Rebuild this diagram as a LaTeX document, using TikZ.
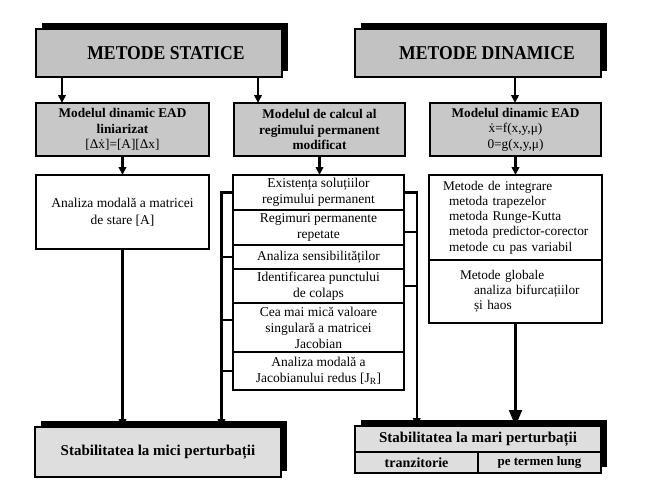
\documentclass[tikz,border=0pt]{standalone}
\usepackage{fontspec}
\setmainfont{Liberation Serif}
\newfontfamily\hdrfont[FakeStretch=0.9]{Liberation Serif}
\usetikzlibrary{arrows.meta,shadows}
\definecolor{hdrgray}{HTML}{C2C2C2}
\definecolor{boxgray}{HTML}{C8C8C8}
\definecolor{botgray}{HTML}{DEDEDE}
\newcommand\dotx{\accent"02D9 x}
\begin{document}
\begin{tikzpicture}[x=1pt,y=-1pt,
  every node/.style={inner sep=0pt, outer sep=0pt},
  frame/.style={draw, line width=1.8pt},
  shad/.style={drop shadow={shadow xshift=6pt, shadow yshift=6pt, fill=black, opacity=1}},
  hdr/.style={frame, fill=hdrgray, anchor=north west, shad, font=\hdrfont\bfseries\fontsize{19.6}{22}\selectfont},
  mbox/.style={frame, fill=boxgray, anchor=north west, align=center, minimum height=53, font=\bfseries\fontsize{13.3}{15.5}\selectfont},
  wbox/.style={frame, line width=1.5pt, fill=white, anchor=north west, align=center, font=\fontsize{13.5}{16.5}\selectfont},
  sbox/.style={wbox, minimum width=171, font=\fontsize{13.5}{16}\selectfont},
  rbox/.style={wbox, minimum width=173, text width=173, align=left, font=\fontsize{13.3}{15.2}\selectfont},
  bot/.style={frame, fill=botgray, anchor=north west, font=\bfseries\fontsize{15}{18}\selectfont},
  conn/.style={line width=2.2pt},
  arr/.style={conn, -{Triangle[width=7.5pt,length=8pt]}},
  bigarr/.style={conn, -{Triangle[width=13pt,length=16pt]}}
]
\useasboundingbox (0,0) rectangle (648,495);
\fill[white] (0,0) rectangle (648,495);

% headers
\node[hdr, minimum width=246, minimum height=48] (statice) at (36,29) {\hspace*{14pt}METODE STATICE};
\node[hdr, minimum width=246, minimum height=48] (dinamice) at (355,29) {\hspace*{18pt}METODE DINAMICE};

% row 2
\node[mbox, minimum width=173] (m1) at (36,103) {Modelul dinamic EAD\\liniarizat\\{\mdseries[Δ\dotx]=[A][Δx]}};
\node[mbox, minimum width=171] (m2) at (234,103) {Modelul de calcul al\\regimului permanent\\modificat};
\node[mbox, minimum width=171] (m3) at (430,103) {Modelul dinamic EAD\\{\mdseries\dotx=f(x,y,μ)}\\{\mdseries 0=g(x,y,μ)}};

% row 3 left
\node[wbox, minimum width=173, minimum height=74] (a1) at (36,175) {Analiza modală a matricei\\de stare [A]};

% middle stack
\node[sbox, minimum height=35] (s1) at (233,175) {Existența soluțiilor\\regimului permanent};
\node[sbox, minimum height=35, anchor=north] (s2) at (s1.south) {Regimuri permanente\\repetate};
\node[sbox, minimum height=24, anchor=north] (s3) at (s2.south) {Analiza sensibilităților};
\node[sbox, minimum height=34, anchor=north] (s4) at (s3.south) {Identificarea punctului\\de colaps};
\node[sbox, minimum height=49, anchor=north] (s5) at (s4.south) {Cea mai mică valoare\\singulară a matricei\\Jacobian};
\node[sbox, minimum height=38, anchor=north] (s6) at (s5.south) {Analiza modală a\\Jacobianului redus [J\textsubscript{R}]};

% right column
\node[rbox, minimum height=85] (r1) at (429,175) {\hspace*{14pt}Metode de integrare\\\hspace*{20pt}metoda trapezelor\\\hspace*{20pt}metoda Runge-Kutta\\\hspace*{20pt}metoda predictor-corector\\\hspace*{20pt}metode cu pas variabil};
\node[rbox, minimum height=63, anchor=north] (r2) at (r1.south) {\hspace*{31pt}Metode globale\\\hspace*{45pt}analiza bifurcațiilor\\\hspace*{45pt}și haos};

% bottom
\node[bot, shad, minimum width=246, minimum height=50] (mici) at (35,427) {Stabilitatea la mici perturbații};
\node[frame, fill=botgray, anchor=north west, shad, minimum width=246, minimum height=47] (mari) at (355,426) {};
\node[bot, minimum width=246, minimum height=26] (mari1) at (mari.north west) {Stabilitatea la mari perturbații};
\node[bot, minimum width=123, minimum height=21, font=\bfseries\fontsize{14}{16}\selectfont] (mari2) at (mari1.south west) {tranzitorie};
\node[bot, anchor=north east, minimum width=123, minimum height=21, font=\bfseries\fontsize{13}{16}\selectfont] (mari3) at (mari1.south east) {pe termen lung};

% connectors
\coordinate (lbx) at (221.5,0);
\coordinate (rbx) at (416.7,0);
\draw[arr] (statice.south -| 62,0) -- (m1.north -| 62,0);
\draw[arr] (statice.south -| 258,0) -- (m2.north -| 258,0);
\draw[arr] (dinamice.south -| 515,0) -- (m3.north -| 515,0);
\draw[arr] (m1.south) -- (a1.north);
\draw[arr] (m2.south) -- (m2.south |- s1.north);
\draw[arr] (m3.south) -- (m3.south |- r1.north);
\draw[arr] (a1.south) -- (a1.south |- mici.north);
\draw[arr] (s1.west) -| (lbx |- mici.north);
\draw[conn] (s3.west) -- (s3.west -| lbx);
\draw[conn] (s5.west |- 0,320) -- (lbx |- 0,320);
\draw[conn] (s6.west) -- (s6.west -| lbx);
\draw[arr] (s1.east) -| (rbx |- mari.north);
\draw[conn] (s2.east |- 0,232) -- (rbx |- 0,232);
\draw[conn] (s4.east) -- (s4.east -| rbx);
\draw[bigarr] (r2.south) -- (r2.south |- mari.north);
\end{tikzpicture}
\end{document}
